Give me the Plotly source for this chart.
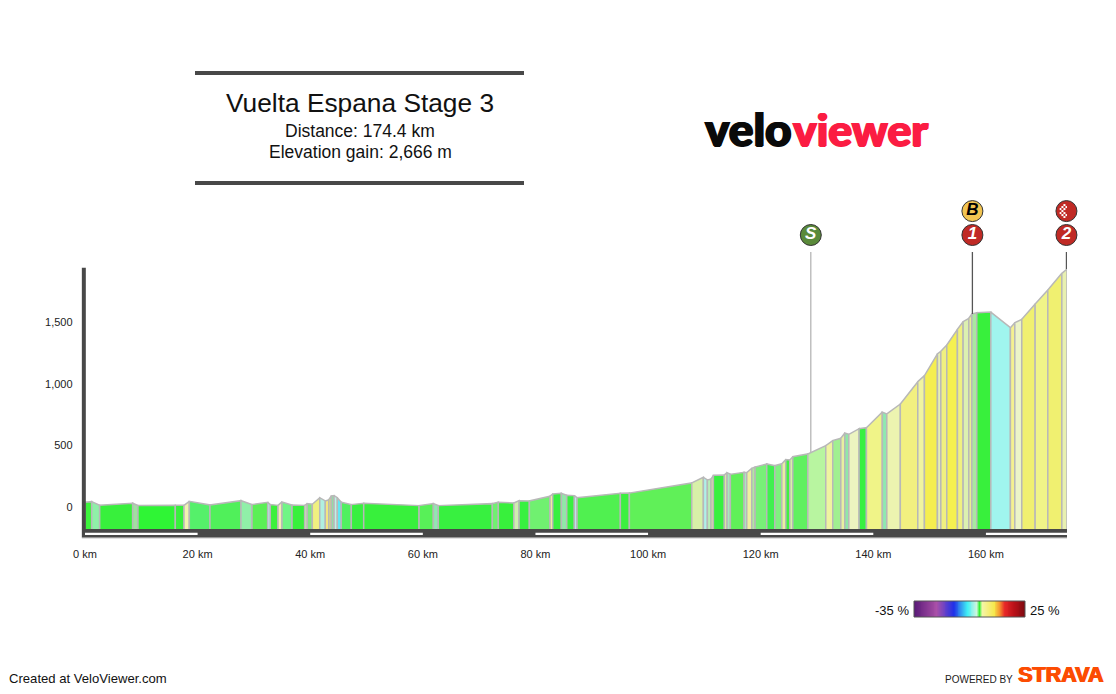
import base64
import plotly.graph_objects as go

# profile breakpoints
seg_km = [0, 1.19, 2.61, 8.47, 9.41, 16.04, 17.58, 18.53, 22.2, 27.71, 29.66, 32.45, 32.91, 34.28, 34.99,
          36.77, 39.02, 39.48, 40.37, 41.69, 42.68, 43.29, 43.75, 44.23, 44.81, 45.52, 47.3, 49.5, 59.33,
          61.87, 62.75, 72.34, 73.41, 76.15, 77.09, 78.92, 82.59, 83.07, 84.6, 85.56, 86.91, 87.39, 95.08,
          96.68, 107.76, 109.82, 110.53, 111.19, 111.6, 113.55, 114.03, 114.62, 117.05, 117.53, 118.42,
          119.0, 121.08, 122.5, 123.75, 124.46, 125.17, 125.7, 128.37, 131.56, 132.8, 134.23, 134.94,
          135.65, 137.48, 138.78, 141.6, 142.4, 144.8, 147.9, 149.08, 151.39, 151.99, 153.05, 154.94,
          155.95, 156.96, 157.5, 158.38, 160.87, 164.35, 165.13, 166.37, 168.74, 170.99, 173.48, 174.4]
seg_elev = [38, 43, 14, 30, 11, 13, 13, 46, 16, 51, 19, 38, 19, 13, 41,
            16, 13, 27, 22, 75, 49, 59, 89, 92, 75, 38, 19, 30, 11,
            27, 11, 27, 38, 32, 51, 49, 87, 105, 111, 95, 92, 75, 111,
            113, 195, 241, 219, 227, 257, 260, 278, 265, 281, 278, 314,
            324, 349, 335, 351, 384, 381, 408, 430, 497, 538, 557, 600,
            589, 635, 643, 770, 754, 835, 1016, 1065, 1241, 1263, 1314, 1441,
            1503, 1530, 1565, 1576, 1581, 1454, 1495, 1522, 1646, 1760, 1895, 1930]
seg_colors = ["#3cf53c", "#8ff0a8", "#38f03c", "#a0e0a0", "#2ff535", "#38f03c", "#f2f4b0", "#55f06a", "#50f05a",
              "#90f0a8", "#5bef55", "#b5f0f0", "#3cf03c", "#f5f0b5", "#70f585", "#38f03c", "#cfeeb0", "#80e880",
              "#f0f080", "#b0f0e0", "#f5e880", "#e0e070", "#90e0a0", "#c0f0e8", "#60e8f5", "#50f060", "#38f040",
              "#38f03c", "#58f058", "#90e8b0", "#38f040", "#70f070", "#38f03c", "#d0eeb0", "#38f040", "#70f070",
              "#f5eca0", "#38f040", "#90e8a8", "#38f040", "#c0e8f5", "#50f050", "#3cf040", "#60f058", "#d8f0a8",
              "#b0f0e8", "#b8eeb8", "#f0f0a0", "#38f040", "#e0f0a0", "#a8e8c0", "#60f058", "#a8e8c0", "#f0f0a0",
              "#b0e8a0", "#78f078", "#40f050", "#80f080", "#e8f0a0", "#40f040", "#d8f0a8", "#60f060", "#b8f5a0",
              "#f0f4a0", "#a0f090", "#e8f0a0", "#90e8a8", "#ecf4c0", "#38f040", "#f0f488", "#90e8b0", "#ecf4b0",
              "#f2f080", "#f0f4a0", "#f5ee50", "#e8f0b0", "#f0f080", "#f5f050", "#f0f080", "#dcf0b0", "#e8f090",
              "#a8e8a0", "#38f03c", "#a0f5ee", "#f5f090", "#ecf4c8", "#f0f070", "#f0f488", "#f0f070", "#e8f0b0"]

km_ticks = [0, 20, 40, 60, 80, 100, 120, 140, 160]
km_labels = ["0 km", "20 km", "40 km", "60 km", "80 km", "100 km", "120 km", "140 km", "160 km"]
elev_ticks = [0, 500, 1000, 1500]
elev_labels = ["0", "500", "1,000", "1,500"]
white_bars = [(0, 20), (40, 60), (80, 100), (120, 140), (160, 174.4)]

# markers above the profile
pin_km = [128.9, 157.6, 174.3]
pin_foot = [445, 1565, 1930]
pin_line_color = ["#b5b5b5", "#555555", "#555555"]
badge_km = [128.9, 157.6, 174.3, 157.6, 174.3]
badge_y = [2206, 2206, 2206, 2400, 2400]
badge_text = ["S", "1", "2", "B", ""]
badge_fill = ["#5a8a3a", "#c02a25", "#c02a25", "#f2c451", "#c02a25"]
badge_font = ["white", "white", "white", "black", "white"]

# gradient legend
grad_pct = list(range(-35, 26))
grad_stops = [0, 0.2, 0.353, 0.475, 0.56, 0.583, 0.606, 0.718, 0.765, 0.81, 0.9, 1]
grad_cols = ["#5a1a78", "#aa50a8", "#2030e8", "#40f0f5", "#d0f5e0", "#30f030", "#f5f5b0", "#f5e84a", "#f59a30",
             "#e82828", "#b81018", "#7a0a10"]

DARK = "#484848"
BASE = -178

# page has an 8px body margin, so the figure is 1108x686 and starts at (8, 8)
def fx(px):
    return (px - 8) / 1108


def fy(py):
    return (694 - py) / 686


fig = go.Figure()

for i in range(len(seg_colors)):
    fig.add_trace(go.Scatter(x=[seg_km[i], seg_km[i], seg_km[i + 1], seg_km[i + 1]],
                             y=[BASE, seg_elev[i], seg_elev[i + 1], BASE],
                             mode="lines", fill="toself", fillcolor=seg_colors[i],
                             line=dict(color="#b8b8b8", width=1.5),
                             showlegend=False, hoverinfo="skip"))

for k, foot, col in zip(pin_km, pin_foot, pin_line_color):
    fig.add_trace(go.Scatter(x=[k, k], y=[2068, foot], mode="lines",
                             line=dict(color=col, width=1.3),
                             showlegend=False, hoverinfo="skip"))

fig.add_trace(go.Scatter(x=badge_km, y=badge_y, mode="markers+text", text=badge_text,
                         textposition="middle center", cliponaxis=False,
                         marker=dict(size=21, color=badge_fill, line=dict(color="#333333", width=1)),
                         textfont=dict(family="Liberation Sans", size=17, color=badge_font,
                                       weight="bold", style="italic"),
                         showlegend=False, hoverinfo="skip"))

fig.add_trace(go.Heatmap(z=[grad_pct], x=grad_pct, xaxis="x2", yaxis="y2", zsmooth="best",
                         colorscale=list(zip(grad_stops, grad_cols)), showscale=False, hoverinfo="skip"))

shapes = [dict(type="rect", xref="x", yref="y", x0=-0.6, x1=174.4, y0=BASE, y1=-249,
               fillcolor=DARK, line_width=0),
          dict(type="rect", xref="x", yref="y", x0=-0.6, x1=0.15, y0=BASE, y1=1940,
               fillcolor=DARK, line_width=0),
          dict(type="line", xref="x", yref="y", x0=-0.6, x1=174.4, y0=-253, y1=-253,
               line=dict(color="#d0d0d0", width=1)),
          dict(type="line", xref="paper", yref="paper", x0=fx(195), x1=fx(524),
               y0=fy(73), y1=fy(73), line=dict(color=DARK, width=4)),
          dict(type="line", xref="paper", yref="paper", x0=fx(195), x1=fx(524),
               y0=fy(183), y1=fy(183), line=dict(color=DARK, width=4)),
          dict(type="rect", xref="x2 domain", yref="y2 domain", x0=0, x1=1, y0=0, y1=1,
               line=dict(color="#555555", width=1))]
for a, b in white_bars:
    shapes.append(dict(type="rect", xref="x", yref="y", x0=a, x1=b, y0=-209, y1=-227,
                       fillcolor="white", line_width=0))


def label(text, px, py, size, color="#111111", family="Liberation Sans", anchor="center", **font):
    return dict(text=text, x=fx(px), y=fy(py), xref="paper", yref="paper", showarrow=False,
                font=dict(family=family, size=size, color=color, **font),
                xanchor=anchor, yanchor="middle")


annotations = [
    label("Vuelta Espana Stage 3", 360, 103, 26.3),
    label("Distance: 174.4 km", 360, 131, 17.5),
    label("Elevation gain: 2,666 m", 360, 152, 17.5),
    label("velo", 703, 128, 46, color="#0a0a0a", family="Lato", anchor="left", weight=900,
          shadow="1px 0 0 #0a0a0a, -1px 0 0 #0a0a0a, 0 1px 0 #0a0a0a"),
    label("viewer", 930, 128, 44.5, color="#fb1c42", family="Lato", anchor="right", weight=900,
          shadow="1px 0 0 #fb1c42, -1px 0 0 #fb1c42, 0 1px 0 #fb1c42"),
    label("-35 %", 911, 610, 13, anchor="right"),
    label("25 %", 1028, 610, 13, anchor="left"),
    label("Created at VeloViewer.com", 7, 678, 13.1, anchor="left"),
    label("POWERED BY", 943, 679, 10, color="#222222", anchor="left"),
    label("STRAVA", 1016, 675, 21.5, color="#fc4c02", anchor="left",
          weight="bold", shadow="1px 0 0 #fc4c02, -0.5px 0 0 #fc4c02"),
]

# chequered flag pattern for the finish badge
squares = ""
for r in range(7):
    for c in range(7):
        if (r + c) % 2 == 0 and 1 < abs(r - 3) + abs(c - 3) + 1 < 6:
            squares += f'<rect x="{c * 2}" y="{r * 2}" width="2" height="2" fill="white"/>'
svg = f'<svg xmlns="http://www.w3.org/2000/svg" viewBox="0 0 14 14">{squares}</svg>'
checker = "data:image/svg+xml;base64," + base64.b64encode(svg.encode()).decode()

tick_font = dict(family="Liberation Sans", size=11, color="#222222")

fig.update_layout(
    width=1108, height=686, autosize=False,
    margin=dict(l=0, r=0, t=0, b=0, autoexpand=False),
    paper_bgcolor="white", plot_bgcolor="white",
    xaxis=dict(domain=[fx(81.6), fx(1067)], range=[-0.6, 174.4], tickvals=km_ticks, ticktext=km_labels,
               tickfont=tick_font, showgrid=False, zeroline=False, showline=False, ticks="",
               ticklabelstandoff=6),
    yaxis=dict(domain=[fy(540), fy(190)], range=[-268, 2571], tickvals=elev_ticks, ticktext=elev_labels,
               tickfont=tick_font, showgrid=False, zeroline=False, showline=False, ticks="",
               ticklabelstandoff=8),
    xaxis2=dict(domain=[fx(914), fx(1025)], anchor="y2", visible=False, range=[-35, 25]),
    yaxis2=dict(domain=[fy(617), fy(601)], anchor="x2", visible=False),
    shapes=shapes, annotations=annotations,
    images=[dict(source=checker, xref="x", yref="y", x=174.3, y=2400, sizex=2.5, sizey=114,
                 xanchor="center", yanchor="middle", layer="above")],
)

fig.write_html("out.html")
